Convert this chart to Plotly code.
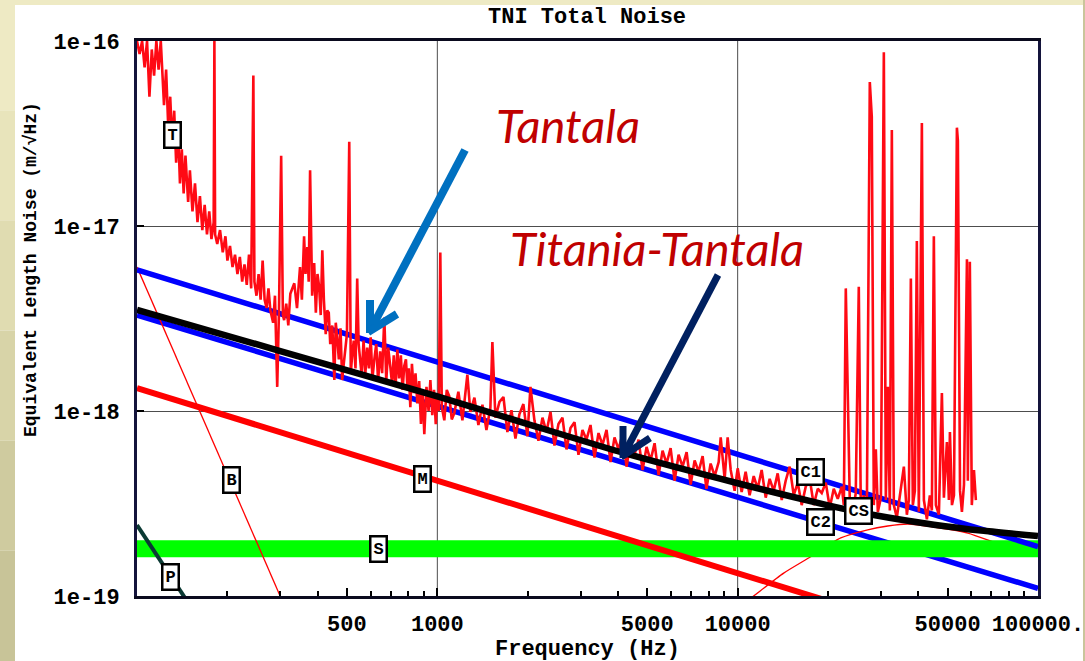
import numpy as np
import plotly.graph_objects as go

# ---------------- data ----------------
meas_freq = [100, 102, 104, 106, 108, 110, 112, 114, 116, 118, 120, 123, 125, 127, 129, 131, 133, 135, 137, 139,
             141, 143, 145, 148, 150, 153, 156, 159, 162, 165, 168, 171, 174, 177, 180, 181, 182, 185, 189, 193,
             197, 200, 204, 208, 212, 216,
             220, 224, 228, 232, 236, 240, 244, 246, 250, 254, 258, 262, 266, 270, 274, 278, 284, 288, 293, 297,
             302, 306, 309, 314, 319, 324, 334, 341, 349, 354, 360, 364, 369, 373, 377, 383, 389, 394, 399, 404,
             409, 414, 419, 425, 430, 435, 440, 447, 454, 459, 464, 470, 476, 482, 488, 494, 500, 509, 515, 521,
             527, 534, 541, 547, 554, 560, 568, 576, 584, 592, 600, 608, 617, 626, 635, 645, 655, 666, 676, 686,
             697, 707, 716, 726, 736, 746, 756, 766, 776, 786, 796, 803, 813, 823, 835, 846, 858, 870, 882, 893,
             905, 920, 935, 948, 962, 975, 988, 1000, 1011, 1023, 1035, 1055, 1075, 1096, 1117, 1139,
             1175, 1212, 1259, 1288, 1329, 1370, 1413, 1457, 1502, 1525, 1561, 1610, 1660, 1711, 1765, 1820, 1876,
             1934, 1995, 2042, 2105, 2171, 2239, 2309, 2381, 2455, 2531, 2610, 2692, 2776, 2862, 2951, 3043, 3138,
             3236, 3337, 3441, 3548, 3659, 3773, 3890, 4011, 4137, 4266, 4399, 4536, 4677, 4823, 4974, 5129, 5289,
             5454, 5623, 5799, 5980, 6166, 6358, 6556, 6761, 6972, 7189, 7413, 7644, 7870, 8128, 8385, 8645, 8780,
             9050, 9261, 9480, 9770, 10000,
             10310, 10630, 10960, 11310, 11660, 12020, 12400, 12780, 13180, 13590, 14020, 14450, 14900, 15370,
             15850, 16340, 16850, 17380, 17920, 18480, 19050, 19650, 20260, 20890, 21540, 22210,
             22570, 22910, 23260, 23620, 24170, 24730, 25310, 25700, 26300, 26920, 27540, 27960, 28400, 28840,
             29290, 29990, 30670, 31140, 31620, 32110, 32610, 33110, 33880, 34670, 35760, 36590, 37150, 37730,
             38310, 38900, 39500, 40110, 41050, 41690, 42660, 43650, 44320, 45000, 45710, 46770, 47860, 48600,
             49740, 50500, 50900, 51700, 52500, 53700, 54100, 55000, 55800, 56700, 58000, 58400, 59300, 60200,
             61200, 62100]
meas_noise = [1.0e-16, 8.5e-17, 1.0e-16, 7.2e-17, 1.0e-16, 5.0e-17, 9.0e-17, 6.5e-17, 1.0e-16, 7.0e-17,
              1.0e-16, 4.5e-17, 7.0e-17, 3.5e-17, 5.0e-17, 2.8e-17, 4.2e-17, 2.2e-17, 3.4e-17, 1.7e-17,
              2.6e-17, 1.5e-17, 2.4e-17, 1.35e-17, 2.0e-17, 1.2e-17, 1.7e-17, 1.05e-17, 1.45e-17, 9.5e-18,
              1.3e-17, 9.0e-18, 1.2e-17, 8.5e-18, 1.05e-17, 1.0e-16, 9.0e-18, 8.0e-18, 9.5e-18, 7.2e-18,
              8.8e-18, 6.5e-18, 7.8e-18, 6.0e-18, 7.0e-18, 5.5e-18,
              6.8e-18, 5.0e-18, 6.2e-18, 4.8e-18, 7.0e-18, 4.6e-18, 6.5e-17, 5.0e-18, 4.2e-18, 5.5e-18,
              4.0e-18, 6.5e-18, 4.0e-18, 3.6e-18, 4.6e-18, 3.5e-18, 3.0e-18, 4.2e-18, 1.35e-18, 3.5e-18,
              2.4e-17, 3.3e-18, 3.1e-18, 3.8e-18, 2.9e-18, 4.3e-18, 4.9e-18, 3.6e-18, 6.0e-18, 4.0e-18,
              8.8e-18, 5.5e-18, 7.7e-18, 5.0e-18, 2.0e-17, 4.2e-18, 6.3e-18, 3.4e-18, 5.5e-18, 4.7e-18,
              3.3e-18, 7.4e-18, 4.0e-18, 2.6e-18, 3.5e-18, 3.4e-18, 2.3e-18, 2.9e-18, 1.47e-18, 3.0e-18,
              2.5e-18, 1.9e-18, 2.8e-18, 1.47e-18, 1.8e-18, 2.2e-18, 2.6e-18, 2.85e-17, 1.6e-18, 2.05e-18,
              2.4e-18, 1.7e-18, 5.2e-18, 2.3e-18, 1.89e-18, 1.55e-18, 2.4e-18, 1.6e-18, 2.2e-18, 1.7e-18,
              2.5e-18, 1.5e-18, 1.9e-18, 2.3e-18, 1.45e-18, 2.1e-18, 1.6e-18, 3.2e-18, 1.45e-18, 2.2e-18,
              1.75e-18, 1.4e-18, 2.0e-18, 1.35e-18, 2.15e-18, 1.5e-18, 2.0e-18, 1.3e-18, 1.75e-18, 1.9e-18,
              1.3e-18, 1.7e-18, 1.05e-18, 1.8e-18, 1.25e-18, 1.6e-18, 1.1e-18, 1.45e-18, 8.5e-19, 1.3e-18,
              7.5e-19, 1.35e-18, 1.0e-18, 1.47e-18, 9.5e-19, 1.3e-18, 8.5e-19, 1.25e-18, 1.0e-18, 7.2e-18,
              1.05e-18, 8.9e-19, 1.3e-18, 1.2e-18, 9.0e-19, 9.75e-19,
              1.27e-18, 8.9e-19, 1.57e-18, 9.9e-19, 1.18e-18, 8.4e-19, 1.08e-18, 7.9e-19, 1.04e-18, 2.36e-18,
              9.2e-19, 1.12e-18, 1.19e-18, 7.7e-19, 1.01e-18, 7.1e-19, 9.6e-19, 1.09e-18, 7.3e-19, 1.35e-18,
              8.9e-19, 6.9e-19, 9.2e-19, 7.7e-19, 9.9e-19, 6.5e-19, 8.5e-19, 9.2e-19, 6.2e-19, 8.1e-19,
              8.7e-19, 5.8e-19, 7.9e-19, 7.0e-19, 8.4e-19, 5.6e-19, 7.6e-19, 6.55e-19, 7.9e-19, 5.3e-19,
              7.2e-19, 6.2e-19, 7.5e-19, 5.0e-19, 6.8e-19, 5.8e-19, 7.0e-19, 4.8e-19, 6.4e-19, 5.4e-19,
              6.7e-19, 4.5e-19, 6.1e-19, 5.2e-19, 6.3e-19, 4.2e-19, 5.8e-19, 5.0e-19, 6.0e-19, 4.0e-19,
              5.4e-19, 4.7e-19, 5.7e-19, 3.8e-19, 5.2e-19, 4.45e-19, 5.3e-19, 7.2e-19, 4.3e-19, 7.2e-19,
              4.8e-19, 3.7e-19, 4.9e-19,
              3.65e-19, 4.7e-19, 3.5e-19, 4.45e-19, 3.8e-19, 4.8e-19, 3.4e-19, 4.3e-19, 3.7e-19, 4.6e-19,
              3.3e-19, 4.2e-19, 5.0e-19, 3.5e-19, 4.1e-19, 3.1e-19, 3.9e-19, 4.3e-19, 3.1e-19, 3.8e-19,
              3.6e-19, 4.1e-19, 3.0e-19, 3.8e-19, 3.35e-19, 3.9e-19,
              3.1e-19, 4.6e-18, 1.0e-18, 3.3e-19, 2.85e-19, 3.6e-19, 4.7e-18, 3.0e-19, 3.5e-19, 2.75e-19,
              6.0e-17, 3.9e-17, 3.1e-19, 6.2e-19, 2.85e-19, 3.4e-19, 8.7e-17, 3.3e-19, 1.35e-18, 2.9e-19,
              3.3e-17, 3.1e-19, 2.65e-19, 3.5e-19, 5.0e-19, 2.75e-19, 3.3e-19, 5.2e-18, 3.1e-19, 3.7e-19,
              8.3e-18, 2.85e-19, 3.6e-17, 3.3e-19, 2.6e-19, 3.5e-19, 2.9e-19, 8.8e-18, 3.1e-19, 2.75e-19,
              1.25e-18, 3.4e-19, 6.8e-19, 3.3e-19, 7.7e-19, 3.1e-19, 3.5e-19, 3.4e-17, 2.9e-17, 3.7e-19,
              2.85e-19, 4.0e-19, 6.6e-18, 4.2e-19, 6.4e-18, 3.1e-19, 4.8e-19, 3.3e-19]

c1_freq = [100, 100000]
c1_noise = [5.8e-18, 1.85e-19]
c2_freq = [100, 100000]
c2_noise = [3.3e-18, 1.1e-19]
m_freq = [100, 100000]
m_noise = [1.33e-18, 4.2e-20]
b_freq = [100, 400]
b_noise = [6.0e-18, 3.4e-20]
p_freq = [100, 150]
p_noise = [2.42e-19, 8.9e-20]
s_freq = [100, 100000]
s_noise = [1.8e-19, 1.8e-19]
tr_freq = [10000, 11300, 14230, 17500, 22040, 27100, 31600, 36900, 45000, 58400, 75300, 100000]
tr_noise = [8.6e-20, 1.0e-19, 1.33e-19, 1.63e-19, 2.06e-19, 2.28e-19, 2.39e-19, 2.45e-19, 2.36e-19,
            2.19e-19, 1.89e-19, 1.64e-19]
total_freq = [100, 300, 1000, 2000, 4170, 10230, 20000, 28400, 45000, 66000, 100000]
total_noise = [3.52e-18, 2.11e-18, 1.20e-18, 8.5e-19, 5.93e-19, 4.03e-19, 3.09e-19, 2.74e-19, 2.43e-19,
               2.25e-19, 2.11e-19]

label_text = ["T", "B", "M", "S", "P", "C1", "C2", "CS"]
label_freq = [131, 207, 891, 635, 129, 17500, 18900, 25300]
label_noise = [3.1e-17, 4.24e-19, 4.3e-19, 1.8e-19, 1.27e-19, 4.68e-19, 2.51e-19, 2.88e-19]

x_tickvals = [500, 1000, 5000, 10000, 50000, 100000]
x_ticktext = ["500", "1000", "5000", "10000", "50000", "100000."]
x_minor = [200, 300, 400, 600, 700, 800, 900, 2000, 3000, 4000, 6000, 7000, 8000, 9000,
           20000, 30000, 40000, 60000, 70000, 80000, 90000]
y_tickvals = [1e-16, 1e-17, 1e-18, 1e-19]
y_ticktext = ["1e-16", "1e-17", "1e-18", "1e-19"]
x_gridvals = [1000, 10000]

# ---------------- layout geometry ----------------
W, H = 1085, 661
ML, MR, MT, MB = 137, 47, 41, 65
PW, PH = W - ML - MR, H - MT - MB


def px(xp):
    return (xp - ML) / PW


def py(yp):
    return (H - MB - yp) / PH


MONO = "Liberation Mono"

fig = go.Figure()


def line(xs, ys, color, width, shape="linear"):
    fig.add_trace(go.Scatter(x=xs, y=ys, mode="lines", hoverinfo="skip",
                             line=dict(color=color, width=width, shape=shape, smoothing=0.6)))


line(c2_freq, c2_noise, "#0000FF", 5.5)
line(tr_freq, tr_noise, "#FF0000", 1.3, "spline")
line(s_freq, s_noise, "#00FF00", 17)
line(b_freq, b_noise, "#FF0000", 1.3)
line(p_freq, p_noise, "#0B3A34", 4)
line(m_freq, m_noise, "#FF0000", 6)
line(c1_freq, c1_noise, "#0000FF", 5.5)
line(meas_freq, meas_noise, "#FF0A14", 2.6)
line(total_freq, total_noise, "#000000", 6.5, "spline")

shapes = []
# beige slide background strips
beige = ["#EEEAC4", "#E8E4BB", "#E0DCB1", "#D8D4A8", "#CFCB9F", "#C8C498"]
n = len(beige)
for i, c in enumerate(beige):
    y0 = H * i / n
    y1 = H * (i + 1) / n
    shapes.append(dict(type="rect", xref="paper", yref="paper", x0=px(0), x1=px(15), y0=py(y1), y1=py(y0),
                       fillcolor=c, line=dict(width=0), layer="below"))
shapes.append(dict(type="rect", xref="paper", yref="paper", x0=px(0), x1=px(W), y0=py(5), y1=py(0),
                   fillcolor="#EEEAC4", line=dict(width=0), layer="below"))
shapes.append(dict(type="rect", xref="paper", yref="paper", x0=px(1083), x1=px(W), y0=py(H), y1=py(0),
                   fillcolor="#C9C59B", line=dict(width=0), layer="below"))
# vertical grid lines
for gv in x_gridvals:
    shapes.append(dict(type="line", xref="x", yref="paper", x0=gv, x1=gv, y0=0, y1=1,
                       line=dict(color="#4d4d4d", width=1), layer="below"))


# arrows
def seg(a, b, color, w):
    shapes.append(dict(type="line", xref="paper", yref="paper", x0=px(a[0]), y0=py(a[1]),
                       x1=px(b[0]), y1=py(b[1]), line=dict(color=color, width=w)))


seg((465, 150), (370, 331), "#0070C0", 8)
seg((370, 333), (370, 300), "#0070C0", 8)
seg((368, 332), (397, 314), "#0070C0", 8)
seg((718, 275), (623, 456), "#002060", 7)
seg((623, 458), (623, 426), "#002060", 7)
seg((621, 457), (650, 438), "#002060", 7)

annotations = []
for t, f, v in zip(label_text, label_freq, label_noise):
    annotations.append(dict(x=np.log10(f), y=np.log10(v), xref="x", yref="y", text=t, showarrow=False,
                            xanchor="center", yanchor="middle",
                            font=dict(family=MONO, size=17, color="black", weight="bold"),
                            bgcolor="white", bordercolor="black", borderwidth=2.5, borderpad=2))


def ptext(xp, yp, text, font, angle=0):
    annotations.append(dict(x=px(xp), y=py(yp), xref="paper", yref="paper", text=text, showarrow=False,
                            xanchor="center", yanchor="middle", textangle=angle, font=font))


ptext(587, 17, "TNI Total Noise", dict(family=MONO, size=22, color="black", weight="bold"))
ptext(587, 649, "Frequency (Hz)", dict(family=MONO, size=22, color="black", weight="bold"))
ptext(31, 270, "Equivalent Length Noise (m/\u221aHz)", dict(family=MONO, size=18, color="black", weight="bold"), -90)
ptext(568, 125, "<i>Tantala</i>", dict(family="Lato", size=47, color="#C00000"))
ptext(657, 248, "<i>Titania-Tantala</i>", dict(family="Lato", size=47, color="#C00000"))

fig.update_layout(
    width=W, height=H, margin=dict(l=ML, r=MR, t=MT, b=MB, autoexpand=False),
    paper_bgcolor="white", plot_bgcolor="white", showlegend=False,
    shapes=shapes, annotations=annotations,
    xaxis=dict(type="log", range=[2, 5], tickvals=x_tickvals, ticktext=x_ticktext, automargin=False,
               ticks="inside", ticklen=8, tickwidth=2, tickcolor="black",
               minor=dict(tickvals=x_minor, ticks="inside", ticklen=5, tickwidth=2, tickcolor="black"),
               showgrid=False, zeroline=False, showline=True, mirror=True, linewidth=3, linecolor="#0a0a1e",
               tickfont=dict(family=MONO, size=22, color="black", weight="bold"), ticklabelstandoff=6),
    yaxis=dict(type="log", range=[-19, -16], tickvals=y_tickvals, ticktext=y_ticktext, automargin=False,
               ticks="inside", ticklen=7, tickwidth=2, tickcolor="black",
               showgrid=True, gridcolor="#4d4d4d", gridwidth=1, zeroline=False,
               showline=True, mirror=True, linewidth=3, linecolor="#14143c",
               tickfont=dict(family=MONO, size=22, color="black", weight="bold"), ticklabelstandoff=10),
)

fig.write_html("out.html", config={"displayModeBar": False},
               post_script="document.body.style.margin='0px';document.body.style.overflow='hidden';")
